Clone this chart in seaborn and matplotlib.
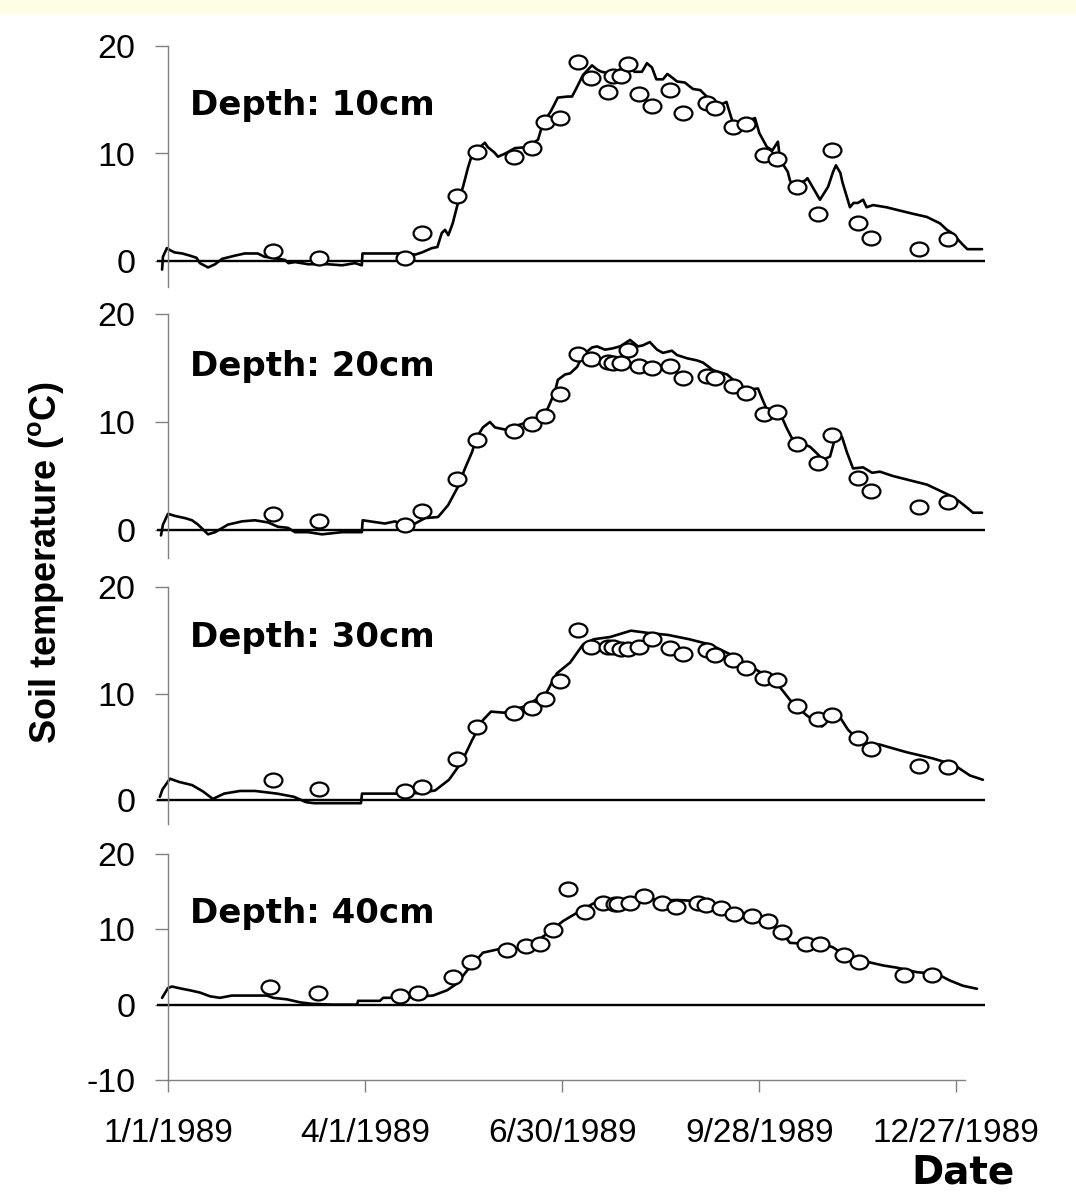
import matplotlib
matplotlib.use("Agg")
import numpy as np
import pandas as pd
import matplotlib.pyplot as plt
from matplotlib.patches import Rectangle
from matplotlib.path import Path
from matplotlib.transforms import Affine2D
import seaborn as sns

# ---- data (day of year 1989, soil temperature in degC) ----
tick_days = [0, 90, 180, 270, 360]
tick_labels = ["1/1/1989", "4/1/1989", "6/30/1989", "9/28/1989", "12/27/1989"]

# measurement days (10, 20, 30 cm) and 40 cm
obs_days = [48, 69, 108, 116, 132, 141, 158, 166, 172, 179, 187, 193, 201, 203, 207,
            210, 215, 221, 229, 235, 246, 250, 258, 264, 272, 278, 287, 297, 303, 315,
            321, 343, 356]
obs_days_40 = [46.6, 68.5, 106, 114, 130, 138.5, 155, 163.5, 170, 176, 182.5, 190.5,
               198.5, 204, 205.5, 211, 217.5, 225.5, 232, 242, 245.5, 252.5, 258.5,
               266.5, 274, 280.5, 291.5, 297.5, 308.5, 315.5, 336, 349]

obs_10 = [0.9, 0.3, 0.3, 2.6, 6.0, 10.1, 9.7, 10.5, 12.9, 13.3, 18.5, 17.0, 15.7, 17.2,
          17.2, 18.3, 15.5, 14.4, 15.9, 13.8, 14.7, 14.2, 12.5, 12.7, 9.9, 9.5, 6.9, 4.4,
          10.3, 3.5, 2.1, 1.1, 2.0]
obs_20 = [1.5, 0.8, 0.45, 1.75, 4.7, 8.3, 9.2, 9.8, 10.6, 12.6, 16.3, 15.8, 15.6, 15.5,
          15.5, 16.7, 15.2, 15.0, 15.2, 14.1, 14.3, 14.1, 13.3, 12.7, 10.7, 10.9, 8.0, 6.2,
          8.8, 4.8, 3.6, 2.1, 2.6]
obs_30 = [1.9, 1.0, 0.85, 1.2, 3.85, 6.9, 8.2, 8.6, 9.5, 11.2, 16.0, 14.4, 14.4, 14.4,
          14.2, 14.2, 14.4, 15.1, 14.3, 13.7, 14.1, 13.6, 13.1, 12.4, 11.5, 11.3, 8.8, 7.6,
          8.0, 5.8, 4.8, 3.2, 3.1]
obs_40 = [2.4, 1.5, 1.2, 1.5, 3.6, 5.7, 7.2, 7.8, 8.1, 9.9, 15.3, 12.3, 13.5, 13.3, 13.4,
          13.5, 14.4, 13.5, 12.9, 13.5, 13.2, 12.8, 12.0, 11.7, 11.1, 9.7, 8.1, 8.1, 6.6,
          5.7, 3.9, 3.9]

# simulated series (day, temperature)
sim_10 = [(-2.7, -0.8), (-2.3, 0.4), (-0.5, 1.2), (1, 1.0), (3, 0.8), (6.5, 0.7), (10, 0.5),
          (13, 0.3), (14.6, -0.2), (18.3, -0.6), (21.5, -0.3), (24.7, 0.2), (30.6, 0.5),
          (35, 0.7), (41, 0.7), (44, 0.4), (47.5, 0.3), (53.4, 0.1), (55, -0.2), (58, -0.1),
          (64, -0.3), (73, -0.3), (79.5, -0.4), (85.4, -0.2), (88.5, -0.4), (88.8, 0.7),
          (107, 0.7), (113, 0.6), (116, 0.8), (120.5, 1.2), (123, 1.3), (125, 2.6),
          (126.5, 2.9), (128, 2.4), (130, 3.5), (132.4, 5.4), (134.7, 6.9), (137, 8.7),
          (139, 10.0), (144.7, 11.0), (146, 10.6), (149, 10.1), (150.7, 9.7), (154, 10.0),
          (158.4, 10.5), (164.4, 10.6), (169, 11.3), (171, 12.7), (175, 14.0), (178, 15.2),
          (182.6, 15.3), (184.5, 15.3), (186.8, 16.2), (189.5, 17.3), (193.6, 18.2),
          (196, 17.8), (198, 17.6), (200.5, 17.5), (203, 17.6), (206.4, 17.8), (209.6, 18.2),
          (213, 17.6), (216.4, 17.6), (218.7, 18.4), (221, 18.0), (223, 16.9), (226, 16.9),
          (228, 17.4), (230.6, 17.0), (232.4, 16.7), (236, 16.6), (239.7, 16.0), (243, 15.9),
          (246, 15.3), (249, 14.7), (252, 14.5), (255, 14.8), (258, 12.8), (261, 12.4),
          (265.7, 13.1), (268, 13.3), (270, 11.9), (273.5, 10.6), (276, 10.3), (278.5, 11.1),
          (279.5, 9.4), (283, 8.3), (284, 7.5), (285.5, 6.9), (291, 7.5), (292, 7.7),
          (297.7, 5.7), (301.4, 6.9), (303.7, 8.3), (305, 8.9), (307, 8.2), (308, 7.3),
          (311.4, 5.0), (313, 5.4), (315, 5.4), (317.4, 5.7), (319, 5.0), (322, 5.2),
          (328, 5.0), (334, 4.7), (340, 4.4), (346.5, 4.1), (352.5, 3.5), (355.7, 2.9),
          (358, 2.6), (360.7, 2.0), (363, 1.5), (365, 1.1), (371.7, 1.1)]
sim_20 = [(-3.2, -0.5), (-2.3, 0.5), (0, 1.5), (3.2, 1.3), (7.8, 1.1), (11, 0.9), (13.7, 0.5),
          (18.3, -0.4), (21.5, -0.2), (27.4, 0.5), (33.8, 0.8), (39.7, 0.9), (45.7, 0.7),
          (50.2, 0.3), (54.8, 0.2), (58, -0.2), (64, -0.2), (70.3, -0.4), (79.5, -0.2),
          (88.5, -0.2), (88.9, 0.9), (99, 0.6), (103.7, 0.8), (106.8, 0.5), (112.8, 0.6),
          (117.4, 1.1), (123.3, 1.2), (127.9, 2.3), (132.4, 4.0), (135.6, 5.7), (138.8, 7.2),
          (141, 8.6), (143.8, 9.5), (147, 10.0), (149.3, 9.5), (153.9, 9.3), (159.8, 9.7),
          (164.4, 10.0), (170.8, 10.5), (173.5, 11.3), (176.7, 12.8), (178, 13.9),
          (181.3, 14.4), (183.6, 14.5), (186.8, 15.1), (189.5, 16.2), (193.6, 16.9),
          (195.9, 17.0), (199.5, 16.7), (202.7, 16.8), (206.4, 17.0), (211, 17.6),
          (214.6, 17.0), (216.9, 17.1), (220, 17.4), (223.3, 16.7), (226, 16.4), (230.1, 16.6),
          (232.4, 16.2), (237, 15.9), (241.6, 15.7), (244.3, 15.5), (248.9, 14.8),
          (255.3, 14.4), (259.8, 13.6), (264.4, 13.0), (269.4, 13.1), (271.2, 12.2),
          (274, 10.9), (279.5, 10.8), (282.6, 9.4), (284.9, 8.5), (288.6, 8.1), (293.2, 7.7),
          (296.3, 7.1), (299.1, 6.5), (302.3, 6.8), (304.6, 8.5), (307.8, 8.6), (310, 7.2),
          (312.8, 5.7), (317.4, 5.8), (321.5, 5.3), (325.1, 5.4), (331, 5.0), (338.8, 4.6),
          (346.6, 4.2), (353.9, 3.5), (358, 3.1), (361.6, 2.6), (365.3, 2.0), (367.6, 1.6),
          (371.7, 1.6)]
sim_30 = [(-3.7, 0.3), (-2.5, 1.0), (0.9, 2.0), (5, 1.7), (11, 1.4), (16, 0.8), (20.5, 0.1),
          (25.6, 0.6), (32.9, 0.85), (39.7, 0.85), (49.8, 0.6), (57.5, 0.3), (63, -0.2),
          (66.7, -0.3), (88.1, -0.3), (88.6, 0.6), (105, 0.6), (115, 0.65), (122, 0.9),
          (128.3, 1.9), (134.2, 3.6), (138.8, 5.6), (143.8, 7.5), (147.5, 8.3), (153.4, 8.2),
          (163, 8.8), (172.6, 10.0), (177.6, 11.9), (183.6, 12.9), (189.5, 14.6),
          (194.5, 15.1), (201.8, 15.3), (211.4, 15.9), (218.7, 15.7), (228.3, 15.5),
          (237.9, 15.1), (247.5, 14.6), (257.5, 13.6), (267.1, 12.4), (276.7, 11.3),
          (284, 9.4), (291.3, 8.0), (298.6, 6.9), (305.5, 8.2), (310.5, 6.6), (316.4, 5.4),
          (325.1, 5.2), (337, 4.5), (349.3, 3.9), (358.9, 3.3), (366.2, 2.3), (372.1, 1.9)]
sim_40 = [(-2.7, 0.9), (0, 2.2), (1.8, 2.4), (6.4, 2.1), (10, 1.9), (14.6, 1.6), (19.2, 1.1),
          (23.7, 0.9), (29.2, 1.2), (45.2, 1.2), (48, 0.9), (54.3, 0.7), (60.3, 0.3),
          (65.8, 0.1), (75, 0.0), (86.3, 0.0), (86.8, 0.5), (96.8, 0.5), (98.2, 0.9),
          (106, 0.9), (121, 1.2), (127.4, 1.9), (132, 2.8), (136.5, 4.5), (143.8, 6.9),
          (151.6, 7.4), (159.4, 7.4), (166.7, 8.1), (173, 9.4), (180.4, 11.1), (186.8, 12.2),
          (194, 13.4), (198.6, 13.9), (205, 13.8), (211, 14.2), (218.7, 14.2), (224.7, 13.8),
          (232.4, 13.9), (238.4, 13.8), (244.3, 13.5), (253.4, 12.7), (261.2, 12.0),
          (268.9, 11.4), (274.9, 10.7), (280.8, 9.4), (284, 8.2), (290, 8.1), (297.7, 8.2),
          (303.7, 7.6), (308.2, 6.7), (314.6, 6.1), (320.5, 5.6), (326.5, 5.2), (332.9, 4.9),
          (342, 4.3), (351, 4.1), (357, 3.2), (363, 2.5), (369.4, 2.1)]

depth_labels = ["Depth: 10cm", "Depth: 20cm", "Depth: 30cm", "Depth: 40cm"]

# ---- style ----
sns.set_style("white")
plt.rcParams["font.family"] = ["Liberation Sans", "DejaVu Sans"]
plt.rcParams["text.color"] = "black"
plt.rcParams["axes.unicode_minus"] = False
plt.rcParams["mathtext.fontset"] = "custom"
plt.rcParams["mathtext.rm"] = "Liberation Sans"
plt.rcParams["mathtext.bf"] = "Liberation Sans:bold"

W, H = 1076, 1194
fig = plt.figure(figsize=(W / 100, H / 100), dpi=100)
fig.patches.append(Rectangle((0, 1 - 14 / H), 1, 14 / H, transform=fig.transFigure,
                             facecolor="#fffde6", edgecolor="none", zorder=0))

# layout in pixels: y-axis at day 0 sits at x=168, 2.19 px per day
px_day = 2.19
xlim = (-5, 373)
left_px = 168 + xlim[0] * px_day
width_px = (xlim[1] - xlim[0]) * px_day

# (ylim, pixel of top, pixels per degree, yticks, label y)
layout = [((-2.4, 20), 46, 10.75, [0, 10, 20], 13.6),
          ((-2.6, 20), 314, 10.8, [0, 10, 20], 14.3),
          ((-2.3, 20), 587, 10.65, [0, 10, 20], 14.4),
          ((-10, 20), 854, 7.53, [-10, 0, 10, 20], 10.9)]

ellipse = Path.unit_circle().transformed(Affine2D().scale(1.0, 0.78))

sims = [sim_10, sim_20, sim_30, sim_40]
obs = [(obs_days, obs_10), (obs_days, obs_20), (obs_days, obs_30), (obs_days_40, obs_40)]

for i, (sim, (od, ov), lab, (ylim, top_px, ppu, yt, laby)) in enumerate(
        zip(sims, obs, depth_labels, layout)):
    h_px = (ylim[1] - ylim[0]) * ppu
    ax = fig.add_axes([left_px / W, 1 - (top_px + h_px) / H, width_px / W, h_px / H])
    ax.set_facecolor("none")

    sim_df = pd.DataFrame(sim, columns=["day", "temp"])
    obs_df = pd.DataFrame({"day": od, "temp": ov})

    ax.axhline(0, color="black", lw=1.7, zorder=1)
    sns.lineplot(data=sim_df, x="day", y="temp", ax=ax, color="black", lw=1.9,
                 estimator=None, sort=False, zorder=2)
    sns.scatterplot(data=obs_df, x="day", y="temp", ax=ax, marker=ellipse, s=165,
                    facecolor="white", edgecolor="black", linewidth=1.6, zorder=3,
                    clip_on=False)

    ax.set_xlim(*xlim)
    ax.set_ylim(*ylim)
    ax.set_yticks(yt)
    ax.set_xlabel("")
    ax.set_ylabel("")
    for s in ["top", "right"]:
        ax.spines[s].set_visible(False)
    ax.spines["left"].set_position(("data", 0))
    ax.spines["left"].set_color("#808080")
    ax.spines["left"].set_linewidth(1.0)
    ax.tick_params(axis="y", direction="out", length=9.5, width=1.0, color="#808080",
                   labelsize=24.5, pad=14, labelcolor="black", left=True)

    ax.text(10, laby, lab, fontsize=24.5, fontweight="bold", family="DejaVu Sans",
            color="black", va="baseline", ha="left")

    if i < 3:
        ax.spines["bottom"].set_visible(False)
        ax.set_xticks([])
    else:
        ax.spines["bottom"].set_color("#808080")
        ax.spines["bottom"].set_linewidth(1.0)
        ax.spines["bottom"].set_bounds(0, 364)
        ax.set_xticks(tick_days)
        ax.set_xticklabels(tick_labels)
        ax.tick_params(axis="x", direction="out", length=8.6, width=1.0, color="#808080",
                       labelsize=24, pad=19, labelcolor="black", bottom=True)

fig.text(46 / W, 1 - 563 / H, r"Soil temperature ($\mathbf{^{o}}$C)", rotation=90,
         fontsize=26, fontweight="bold", color="black", ha="center", va="center")
fig.text(1015 / W, 1 - 1183 / H, "Date", fontsize=28, fontweight="bold",
         family="DejaVu Sans", color="black", ha="right", va="baseline")

fig.savefig("out.png", dpi=100)
